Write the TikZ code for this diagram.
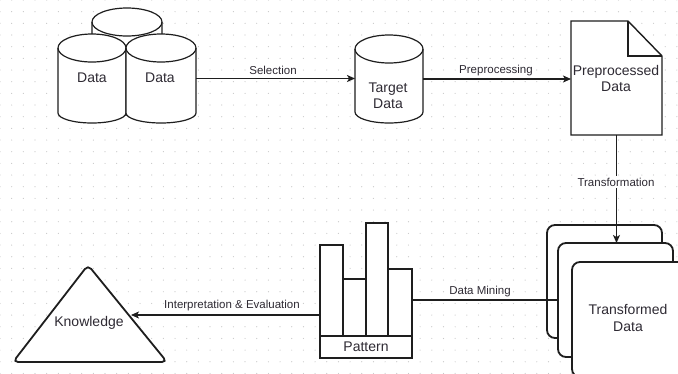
\documentclass[tikz,border=0pt]{standalone}
\usepackage{fontspec}
\setmainfont{Liberation Sans}
\usetikzlibrary{arrows.meta,calc}
\definecolor{ink}{HTML}{1E1E1E}
\definecolor{txt}{HTML}{2E2A33}
\definecolor{dotc}{HTML}{C8C8C8}
% #1 name, #2 cx, #3 top, #4 bottom, #5 rx, #6 top ry, #7 bottom ry (pixel rows, y downwards)
\newcommand\mycyl[7]{%
  \path[shp] (#2-#5,-#3-#6) -- (#2-#5,-#4+#7)
    arc[start angle=180,end angle=360,x radius=#5,y radius=#7]
    -- (#2+#5,-#3-#6)
    arc[start angle=0,end angle=180,x radius=#5,y radius=#6] -- cycle;
  \draw[shp,fill=none] (#2-#5,-#3-#6) arc[start angle=180,end angle=360,x radius=#5,y radius=#6];
  \node[box,minimum width=2*#5,minimum height=#4-#3] (#1) at (#2,{-(#3+#4)/2}) {};
}
\begin{document}
\begin{tikzpicture}[x=1pt,y=1pt,
  shp/.style={draw=ink,fill=white,line width=1.2pt},
  thk/.style={draw=ink,fill=white,line width=1.8pt},
  box/.style={inner sep=0pt,outer sep=0pt,draw=none},
  rbox/.style={draw=ink,fill=white,line width=1.8pt,inner sep=0pt,outer sep=0pt},
  nodetxt/.style={font=\fontsize{14}{16.5}\selectfont,text=txt,align=center,inner sep=0pt},
  lbl/.style={font=\fontsize{11.5}{13}\selectfont,text=txt,inner sep=1.5pt},
  conn/.style={draw=ink,line width=1.1pt},
  arr/.style={conn,-{Stealth[length=8pt,width=7pt,inset=2pt]}},
]
\useasboundingbox (0,-373) rectangle (678,0);
\clip (0,-373) rectangle (678,0);
\fill[white] (0,-373) rectangle (678,0);
\foreach \i in {0,...,58}{\foreach \j in {0,...,32}{\fill[dotc] (\i*11.67,-\j*11.67) circle (0.6);}}

% Data cylinders
\mycyl{dback}{127}{8}{115}{35}{14}{12}
\mycyl{data1}{92}{34}{123}{34}{14}{10}
\mycyl{data2}{161}{34}{123}{35}{14}{10}
\node[nodetxt] (d1t) at (92,-78) {Data};
\node[nodetxt] (d2t) at (160,-78) {Data};

% Target data
\mycyl{tgt}{389}{35}{123}{34}{14}{11}
\node[nodetxt] (tgtt) at (388,-95.5) {Target\\Data};

% Preprocessed document
\node[box,minimum width=91,minimum height=114] (pre) at (616.5,-78) {};
\draw[shp,line width=1.4pt] (pre.north west) -- ($(pre.north east)+(-34,0)$) -- ($(pre.north east)+(0,-35)$)
  -- (pre.south east) -- (pre.south west) -- cycle;
\draw[shp,fill=none,line width=1.4pt] ($(pre.north east)+(-34,0)$) -- ($(pre.north east)+(-34,-35)$) -- ($(pre.north east)+(0,-35)$);
\node[nodetxt] (pret) at (616,-78.5) {Preprocessed\\Data};

% Transformed data stack
\node[rbox,rounded corners=8pt,minimum width=115,minimum height=113] (tback) at (604.5,-281.5) {};
\node[rbox,rounded corners=8pt,minimum width=115,minimum height=114] (tmid) at (615.5,-300) {};
\node[rbox,rounded corners=8pt,minimum width=115,minimum height=115] (tfront) at (629.5,-319.5) {};
\node[nodetxt] (tft) at (628,-318) {Transformed\\Data};

% Pattern
\node[rbox,minimum width=23,minimum height=91] (bar1) at (331.5,-290.5) {};
\node[rbox,minimum width=23,minimum height=57] (bar2) at (354.5,-307.5) {};
\node[rbox,minimum width=22,minimum height=113] (bar3) at (377,-279.5) {};
\node[rbox,minimum width=24,minimum height=67] (bar4) at (400,-302.5) {};
\node[rbox,minimum width=92,minimum height=22] (ptn) at (366,-347) {};
\node[nodetxt] (ptnt) at (366,-347) {Pattern};

% Knowledge triangle
\coordinate (kapex) at (88,-265);
\coordinate (kl) at (13,-362);
\coordinate (kr) at (167,-362);
\draw[thk,rounded corners=5pt] (90,-362) -- (kr) -- (kapex) -- (kl) -- cycle;
\node[nodetxt] (kn) at (89,-323) {Knowledge};
\coordinate (knin) at (131,-315);

% Connectors
\draw[arr] (data2.east) -- (data2.east -| tgt.west);
\draw[arr] (tgt.east) -- (tgt.east -| pre.west);
\draw[arr] (pre.south) -- (pre.south |- tmid.north);
\draw[conn] (bar4.east |- tmid.west) -- (tmid.west);
\draw[arr] (bar1.west |- knin) -- (knin);

% Labels
\node[lbl] (l1) at (273,-70) {Selection};
\node[lbl] (l2) at (496,-70.5) {Preprocessing};
\node[lbl,fill=white] (l3) at (616,-182) {Transformation};
\node[lbl] (l4) at (480,-292) {Data Mining};
\node[lbl] (l5) at (232,-306) {Interpretation \& Evaluation};
\end{tikzpicture}
\end{document}
